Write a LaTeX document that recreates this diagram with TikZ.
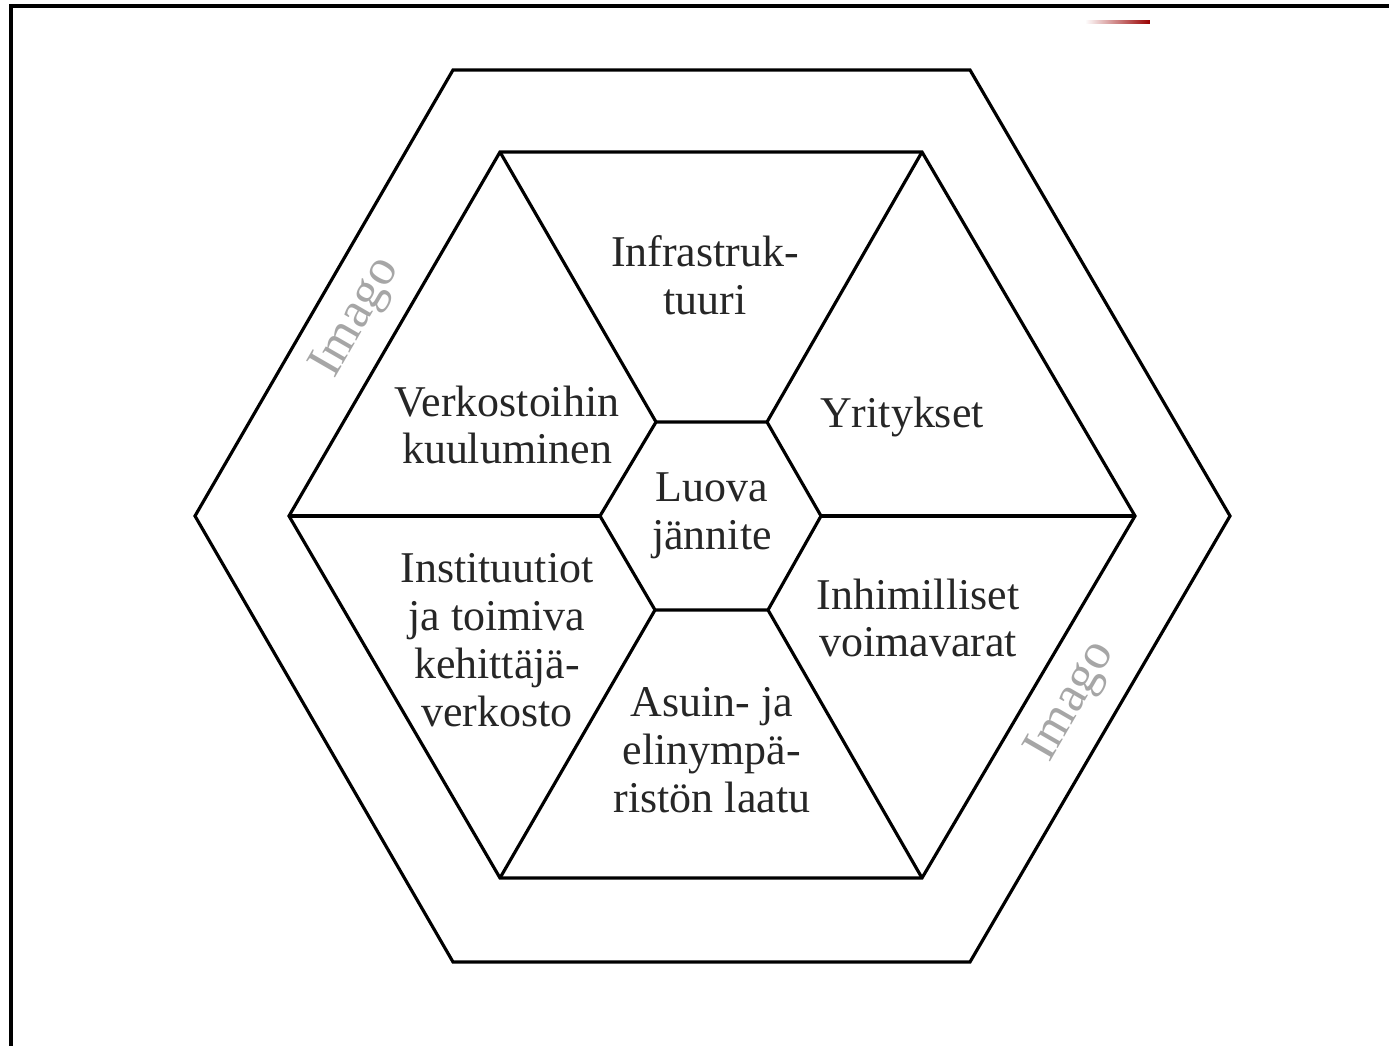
\documentclass[tikz,border=0pt]{standalone}
\usepackage{fontspec}
\setmainfont{Liberation Serif}

\tikzstyle{hexline} = [line width=0.9pt, line join=miter]
\tikzstyle{field} = [align=center, inner sep=0pt, text=black!85,
	font=\fontsize{12.5}{13.6}\selectfont]
\tikzstyle{imago} = [inner sep=0pt, text=black!35, rotate=60,
	font=\fontsize{14.5}{15}\selectfont]

\begin{document}
\begin{tikzpicture}
\useasboundingbox (0,0) rectangle (13.89,10.46);
\draw[line width=1.2pt] (0.11,0) -- (0.11,10.40) -- (13.89,10.40);
\shade[left color=white, right color=red!60!black] (10.85,10.228) rectangle (11.50,10.252);
\fill[white] (11.50,10.20) rectangle (11.70,10.28);

\coordinate (c) at (7.12,5.30);
% outer ring
\coordinate (o1) at (12.30,5.30);
\coordinate (o2) at (9.70,9.76);
\coordinate (o3) at (4.53,9.76);
\coordinate (o4) at (1.95,5.30);
\coordinate (o5) at (4.53,0.84);
\coordinate (o6) at (9.70,0.84);
% big hexagon
\coordinate (b1) at (11.35,5.30);
\coordinate (b2) at (9.22,8.94);
\coordinate (b3) at (5.00,8.94);
\coordinate (b4) at (2.89,5.30);
\coordinate (b5) at (5.00,1.68);
\coordinate (b6) at (9.22,1.68);
% core
\coordinate (s1) at (8.21,5.30);
\coordinate (s2) at (7.67,6.24);
\coordinate (s3) at (6.56,6.24);
\coordinate (s4) at (6.00,5.30);
\coordinate (s5) at (6.55,4.36);
\coordinate (s6) at (7.68,4.36);

\draw[hexline] (o1) -- (o2) -- (o3) -- (o4) -- (o5) -- (o6) -- cycle;
\draw[hexline] (b1) -- (b2) -- (b3) -- (b4) -- (b5) -- (b6) -- cycle;
\draw[hexline] (s1) -- (s2) -- (s3) -- (s4) -- (s5) -- (s6) -- cycle;
\foreach \i in {1,...,6}
	\draw[hexline] (s\i) -- (b\i);

\node[field] (infra) at (7.05,7.71) {Infrastruk-\\tuuri};
\node[field] (yrit) at (9.02,6.29) {Yritykset};
\node[field] (verk) at (5.07,6.21) {Verkostoihin\\kuuluminen};
\node[field] (luova) at (c) {Luova\\jännite};
\node[field] (inst) at (4.97,4.06) {Instituutiot\\ja toimiva\\kehittäjä-\\verkosto};
\node[field] (inhim) at (9.18,4.28) {Inhimilliset\\voimavarat};
\node[field] (asuin) at (7.12,2.96) {Asuin- ja\\elinympä-\\ristön laatu};

\node[imago] (imagoL) at (3.57,7.28) {Imago};
\node[imago] (imagoR) at (10.72,3.44) {Imago};
\end{tikzpicture}
\end{document}
